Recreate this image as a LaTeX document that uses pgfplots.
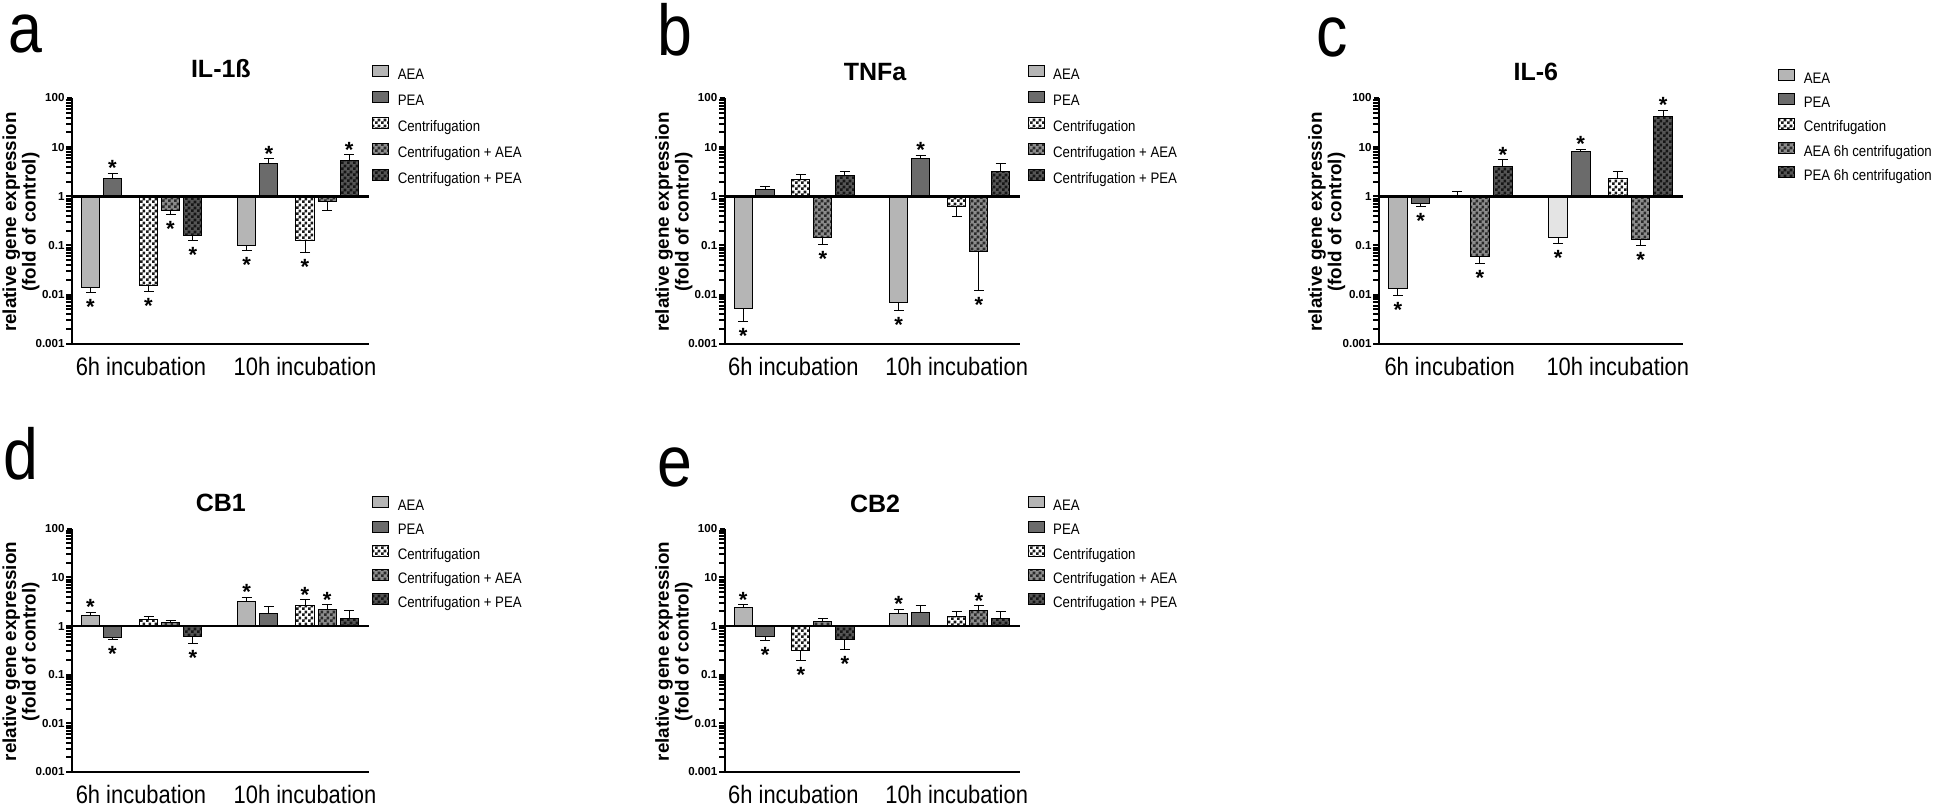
\documentclass[border=0pt]{standalone}
\usepackage{pgfplots}
\pgfplotsset{compat=1.18}
\usepackage{fontspec}
\setmainfont{Liberation Sans}
\newfontfamily\cond[FakeStretch=0.87]{Liberation Sans}
\usetikzlibrary{patterns}

\pgfdeclarepatternformonly{fcheck}{\pgfqpoint{0pt}{0pt}}{\pgfqpoint{2.8pt}{2.8pt}}{\pgfqpoint{2.8pt}{2.8pt}}{%
  \pgfpathrectangle{\pgfqpoint{0pt}{0pt}}{\pgfqpoint{1.4pt}{1.4pt}}%
  \pgfpathrectangle{\pgfqpoint{1.4pt}{1.4pt}}{\pgfqpoint{1.4pt}{1.4pt}}%
  \pgfusepath{fill}}

\definecolor{gAEA}{HTML}{B5B5B5}
\definecolor{gAEAlight}{HTML}{E4E4E4}
\definecolor{gPEA}{HTML}{6B6B6B}
\definecolor{gCA}{HTML}{8C8C8C}
\definecolor{gCAp}{HTML}{2A2A2A}
\definecolor{gCP}{HTML}{555555}
\definecolor{gCPp}{HTML}{151515}

\pgfplotsset{
  every axis/.append style={
    scale only axis,
    xmin=0, xmax=296.6,
    ymin=0.001, ymax=100,
    axis x line*=bottom, axis y line*=left,
    axis line style={line width=1.2pt, black},
    ytick={0.001,0.01,0.1,1,10,100},
    yticklabels={0.001,0.01,0.1,1,10,100},
    tick align=outside,
    major tick length=2.5pt,
    ytick style={line width=1pt, black},
    xtick={69,233},
    xticklabels={6h incubation,10h incubation},
    xtick style={draw=none},
    yticklabel style={font=\bfseries\fontsize{5.8}{6.5}\selectfont, inner sep=1pt},
    xticklabel style={font=\cond\fontsize{12.6}{14}\selectfont, inner sep=0pt, yshift=-3.8pt},
    ylabel={relative gene expression\\(fold of control)},
    ylabel style={font=\bfseries\fontsize{9.4}{8.4}\selectfont, align=center, at={(rel axis cs:-0.172,0.495)}, anchor=center},
    every axis title shift=0pt,
    title style={font=\bfseries\fontsize{12.5}{14}\selectfont, anchor=center, yshift=0pt},
    clip=false,
    legend cell align=left,
    legend style={draw=none, fill=none, inner sep=0pt, anchor=north west,
      font=\cond\fontsize{7.6}{9}\selectfont,
      nodes={inner sep=0pt, text height=5pt, text depth=1.5pt},
      /tikz/every odd column/.append style={column sep=4.2pt}},
  },
  mylegend/.style={legend image code/.code={\draw[##1] (0pt,-0.3pt) rectangle (8pt,5.2pt);}},
  errb/.style={error bars/y dir=both, error bars/y explicit,
    error bars/error bar style={line width=0.5pt, black},
    error bars/error mark options={rotate=90, black, line width=0.5pt, mark size=2.5pt}},
  bars/.style={ybar, bar width=18.3, bar shift=0pt, draw=black, line width=0.5pt, errb, mylegend},
  sAEA/.style={bars, fill=gAEA},
  sAEAl/.style={bars, fill=gAEAlight},
  sPEA/.style={bars, fill=gPEA},
  sC/.style={bars, preaction={fill=white}, pattern=fcheck, pattern color=black!90},
  sCA/.style={bars, preaction={fill=gCA}, pattern=fcheck, pattern color=gCAp},
  sCP/.style={bars, preaction={fill=gCP}, pattern=fcheck, pattern color=gCPp},
  starup/.style={forget plot, draw=none, mark=none, nodes near coords={\bfseries *},
    nodes near coords style={anchor=base, inner sep=0pt, yshift=-1.2pt, font=\fontsize{11}{12}\selectfont}},
  stardn/.style={forget plot, draw=none, mark=none, nodes near coords={\bfseries *},
    nodes near coords style={anchor=base, inner sep=0pt, yshift=-11pt, font=\fontsize{11}{12}\selectfont}},
  oneline/.style={forget plot, black, line width=1.2pt},
}

\begin{document}
\begin{tikzpicture}
\useasboundingbox (0,0) rectangle (973pt,403.5pt);

\node[anchor=base west, inner sep=0pt, font=\cond\fontsize{35}{40}\selectfont] at (4pt,377pt) {a};
\node[anchor=base west, inner sep=0pt, font=\cond\fontsize{36}{40}\selectfont] at (328.5pt,375.5pt) {b};
\node[anchor=base west, inner sep=0pt, font=\cond\fontsize{36}{40}\selectfont] at (658pt,375pt) {c};
\node[anchor=base west, inner sep=0pt, font=\cond\fontsize{36}{40}\selectfont] at (1.5pt,163.5pt) {d};
\node[anchor=base west, inner sep=0pt, font=\cond\fontsize{36}{40}\selectfont] at (328.5pt,160pt) {e};

% ---------- a: IL-1beta ----------
\begin{semilogyaxis}[at={(36pt,231.6pt)}, anchor=south west, width=148.3pt, height=122.9pt,
  title={IL-1ß}, title style={at={(rel axis cs:0.502,1.121)}},
  legend style={at={(rel axis cs:1.0115,1.137)}, row sep=4.3pt}]
\addplot[sAEA] coordinates {(18.5,0.0139) -= (0,0.0029) (174.7,0.101) -= (0,0.022)};
\addlegendentry{AEA}
\addplot[sPEA] coordinates {(40.5,2.25) += (0,0.70) (196.8,4.6) += (0,1.17)};
\addlegendentry{PEA}
\addplot[sC] coordinates {(76.5,0.015) -= (0,0.0035) (233,0.124) -= (0,0.052)};
\addlegendentry{Centrifugation}
\addplot[sCA] coordinates {(98.5,0.51) -= (0,0.08) (255.2,0.776) -= (0,0.266)};
\addlegendentry{Centrifugation + AEA}
\addplot[sCP] coordinates {(120.8,0.16) -= (0,0.032) (277.2,5.33) += (0,1.63)};
\addlegendentry{Centrifugation + PEA}
\addplot[starup] coordinates {(40.5,2.95) (196.8,5.77) (277.2,6.96)};
\addplot[stardn] coordinates {(18.5,0.011) (76.5,0.0115) (98.5,0.43) (120.8,0.128) (174.7,0.079) (233,0.072)};
\addplot[oneline] coordinates {(0,1) (296.6,1)};
\end{semilogyaxis}

% ---------- b: TNFa ----------
\begin{semilogyaxis}[at={(362.35pt,231.6pt)}, anchor=south west, width=147.65pt, height=122.9pt,
  title={TNFa}, title style={at={(rel axis cs:0.509,1.106)}},
  legend style={at={(rel axis cs:1.025,1.137)}, row sep=4.3pt}]
\addplot[sAEA] coordinates {(18.5,0.00527) -= (0,0.00247) (174.7,0.007) -= (0,0.00232)};
\addlegendentry{AEA}
\addplot[sPEA] coordinates {(40.5,1.36) += (0,0.24) (196.8,5.98) += (0,0.79)};
\addlegendentry{PEA}
\addplot[sC] coordinates {(76.5,2.19) += (0,0.63) (233,0.62) -= (0,0.225)};
\addlegendentry{Centrifugation}
\addplot[sCA] coordinates {(98.5,0.142) -= (0,0.035) (255.2,0.075) -= (0,0.0629)};
\addlegendentry{Centrifugation + AEA}
\addplot[sCP] coordinates {(120.8,2.6) += (0,0.58) (277.2,3.18) += (0,1.46)};
\addlegendentry{Centrifugation + PEA}
\addplot[starup] coordinates {(196.8,6.77)};
\addplot[stardn] coordinates {(18.5,0.0028) (98.5,0.107) (174.7,0.00468) (255.2,0.0121)};
\addplot[oneline] coordinates {(0,1) (296.6,1)};
\end{semilogyaxis}

% ---------- c: IL-6 ----------
\begin{semilogyaxis}[at={(689.5pt,231.6pt)}, anchor=south west, width=152pt, height=122.9pt,
  title={IL-6}, title style={at={(rel axis cs:0.516,1.106)}},
  legend style={at={(rel axis cs:1.3125,1.119)}, row sep=3.4pt}]
\addplot[sAEA] coordinates {(18.5,0.0131) -= (0,0.0036)};
\addlegendentry{AEA}
\addplot[sPEA] coordinates {(40.5,0.705) -= (0,0.095) (196.8,8.0) += (0,1.06)};
\addlegendentry{PEA}
\addplot[sC] coordinates {(76.5,1.05) += (0,0.22) (233,2.3) += (0,0.96)};
\addlegendentry{Centrifugation}
\addplot[sCA] coordinates {(98.5,0.0594) -= (0,0.016) (255.2,0.135) -= (0,0.034)};
\addlegendentry{AEA 6h centrifugation}
\addplot[sCP] coordinates {(120.8,4.13) += (0,1.35) (277.2,42.5) += (0,13.1)};
\addlegendentry{PEA 6h centrifugation}
\addplot[sAEAl, forget plot] coordinates {(174.7,0.144) -= (0,0.033)};
\addplot[starup] coordinates {(120.8,5.48) (196.8,9.06) (277.2,55.6)};
\addplot[stardn] coordinates {(18.5,0.0095) (40.5,0.61) (98.5,0.0434) (174.7,0.111) (255.2,0.101)};
\addplot[oneline] coordinates {(0,1) (296.6,1)};
\end{semilogyaxis}

% ---------- d: CB1 ----------
\begin{semilogyaxis}[at={(36pt,17.5pt)}, anchor=south west, width=148.3pt, height=121.65pt,
  title={CB1}, title style={at={(rel axis cs:0.502,1.107)}},
  legend style={at={(rel axis cs:1.0115,1.135)}, row sep=3.45pt}]
\addplot[sAEA] coordinates {(18.5,1.67) += (0,0.25) (174.7,3.23) += (0,0.61)};
\addlegendentry{AEA}
\addplot[sPEA] coordinates {(40.5,0.589) -= (0,0.07) (196.8,1.77) += (0,0.7)};
\addlegendentry{PEA}
\addplot[sC] coordinates {(76.5,1.34) += (0,0.22) (233,2.67) += (0,0.77)};
\addlegendentry{Centrifugation}
\addplot[sCA] coordinates {(98.5,1.16) += (0,0.13) (255.2,2.18) += (0,0.53)};
\addlegendentry{Centrifugation + AEA}
\addplot[sCP] coordinates {(120.8,0.608) -= (0,0.164) (277.2,1.42) += (0,0.66)};
\addlegendentry{Centrifugation + PEA}
\addplot[starup] coordinates {(18.5,1.92) (174.7,3.84) (233,3.44) (255.2,2.71)};
\addplot[stardn] coordinates {(40.5,0.519) (120.8,0.444)};
\addplot[oneline] coordinates {(0,1) (296.6,1)};
\end{semilogyaxis}

% ---------- e: CB2 ----------
\begin{semilogyaxis}[at={(362.35pt,17.5pt)}, anchor=south west, width=147.65pt, height=121.65pt,
  title={CB2}, title style={at={(rel axis cs:0.509,1.101)}},
  legend style={at={(rel axis cs:1.025,1.135)}, row sep=3.45pt}]
\addplot[sAEA] coordinates {(18.5,2.43) += (0,0.29) (174.7,1.8) += (0,0.38)};
\addlegendentry{AEA}
\addplot[sPEA] coordinates {(40.5,0.618) -= (0,0.115) (196.8,1.92) += (0,0.71)};
\addlegendentry{PEA}
\addplot[sC] coordinates {(76.5,0.314) -= (0,0.115) (233,1.56) += (0,0.45)};
\addlegendentry{Centrifugation}
\addplot[sCA] coordinates {(98.5,1.22) += (0,0.23) (255.2,2.11) += (0,0.48)};
\addlegendentry{Centrifugation + AEA}
\addplot[sCP] coordinates {(120.8,0.528) -= (0,0.199) (277.2,1.45) += (0,0.56)};
\addlegendentry{Centrifugation + PEA}
\addplot[starup] coordinates {(18.5,2.72) (174.7,2.18) (255.2,2.59)};
\addplot[stardn] coordinates {(40.5,0.503) (76.5,0.199) (120.8,0.329)};
\addplot[oneline] coordinates {(0,1) (296.6,1)};
\end{semilogyaxis}
\end{tikzpicture}
\end{document}
